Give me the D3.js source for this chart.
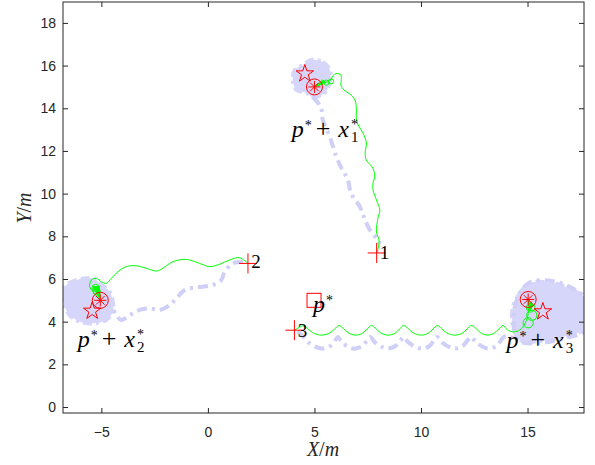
<!DOCTYPE html>
<html>
<head>
<meta charset="utf-8">
<script src="https://cdn.jsdelivr.net/npm/d3@7"></script>
<style>
  body { margin: 0; background: #fff; }
</style>
</head>
<body>
<svg id="chart" width="595" height="465"></svg>
<script>
// ---- data (metres) ----
var xTicks = [-5, 0, 5, 10, 15];
var yTicks = [0, 2, 4, 6, 8, 10, 12, 14, 16, 18];

var startPts = [[7.92, 7.22], [1.88, 6.73], [4.06, 3.6]];
var finalPts = [[5.0, 15.0], [-5.05, 5.0], [15.03, 5.04]];
var targetPts = [[4.55, 15.62], [-5.43, 4.5], [15.72, 4.47]];
var centrePt = [4.98, 5.0];

var green1 = [[7.92,7.22],[7.97,7.36],[8.03,7.83],[7.91,8.20],[7.99,8.90],[8.07,9.23],[7.91,9.70],[7.75,10.17],
  [7.75,10.50],[7.83,10.78],[7.74,11.20],[7.43,11.58],[7.38,11.91],[7.44,12.37],[7.28,12.84],[7.05,13.22],
  [6.96,13.55],[6.97,13.92],[6.90,14.39],[6.66,14.67],[6.38,14.86],[6.24,15.09],[6.26,15.33],[6.24,15.56],
  [6.05,15.63],[5.86,15.52],[5.77,15.33],[5.58,15.23],[5.34,15.14],[5.0,15.0]];
var green2 = [[1.88,6.73],[1.49,7.00],[1.02,6.89],[0.55,6.69],[0.08,6.58],[-0.39,6.73],[-0.85,6.89],[-1.17,6.92],
  [-1.64,6.81],[-1.95,6.62],[-2.26,6.42],[-2.42,6.37],[-2.89,6.50],[-3.36,6.62],[-3.83,6.58],[-4.22,6.34],
  [-4.53,6.03],[-4.77,5.80],[-5.00,5.87],[-5.23,6.03],[-5.47,5.95],[-5.55,5.64],[-5.39,5.40],[-5.05,5.0]];
var green3 = [[4.06,3.6],[4.30,3.74],[4.46,3.80],[4.68,3.68],[4.92,3.48],[5.30,3.37],[5.68,3.45],[5.95,3.66],
  [6.15,3.82],[6.36,3.68],[6.58,3.48],[6.91,3.37],[7.25,3.45],[7.48,3.66],[7.67,3.82],[7.88,3.68],[8.10,3.48],
  [8.43,3.37],[8.77,3.45],[9.00,3.66],[9.19,3.82],[9.40,3.68],[9.62,3.48],[9.98,3.37],[10.33,3.45],[10.57,3.66],
  [10.76,3.82],[10.97,3.68],[11.20,3.48],[11.56,3.37],[11.92,3.45],[12.17,3.66],[12.37,3.82],[12.58,3.68],
  [12.80,3.48],[13.11,3.37],[13.42,3.45],[13.66,3.66],[13.85,3.82],[14.05,3.62],[14.35,3.52],[14.65,3.62],
  [14.87,3.89],[15.0,4.2],[15.05,4.6],[15.03,5.04]];

var loops = [[5.56,15.2,0.12],[5.78,15.26,0.12],[-5.27,5.58,0.17],[-5.22,5.42,0.17],
  [15.03,3.95,0.24],[15.2,4.3,0.24],[15.15,4.65,0.2]];
var fans = [
  [[5.0,15.0],[5.4,15.33],[5.5,15.19]],
  [[-5.4,5.63],[-5.1,5.66],[-5.05,5.05]],
  [[15.03,5.0],[15.26,4.77],[15.12,4.53]]
];

var blue1 = [[4.92,14.53],[5.30,14.06],[5.39,13.45],[5.72,12.66],[6.00,11.81],[6.24,11.25],[6.57,10.64],
  [6.71,10.03],[7.14,9.37],[7.32,8.91],[7.60,8.30],[7.98,7.83],[8.07,7.64]];
var blue2 = [[1.65,6.81],[1.18,6.73],[0.79,6.34],[0.63,5.95],[0.24,5.72],[-0.23,5.64],[-0.70,5.59],[-1.09,5.48],
  [-1.48,5.09],[-1.79,4.78],[-2.26,4.55],[-2.73,4.62],[-3.20,4.55],[-3.67,4.31],[-4.06,4.08],[-4.30,4.31],[-4.46,4.63]];
var blue3 = [[4.22,3.56],[4.45,3.32],[4.75,3.0],[5.34,2.74],[5.75,2.86],[5.98,3.14],[6.10,3.28],[6.30,3.02],
  [6.80,2.74],[7.25,2.86],[7.48,3.14],[7.62,3.28],[7.85,3.02],[8.39,2.74],[8.80,2.86],[9.05,3.14],[9.19,3.28],
  [9.42,3.02],[9.99,2.74],[10.4,2.86],[10.62,3.14],[10.76,3.28],[11.0,3.02],[11.54,2.74],[11.95,2.86],
  [12.2,3.14],[12.36,3.28],[12.6,3.02],[13.14,2.74],[13.55,2.86],[13.76,3.14],[13.88,3.28],[14.31,3.3],
  [14.35,3.9],[14.4,4.7],[14.64,5.34],[15.11,5.85],[16.19,5.9],[17.13,5.55],[17.9,4.9],[17.9,3.7],
  [16.66,3.2],[15.58,3.0],[14.64,3.05],[14.4,3.3]];

var blob1 = [[4.86,16.27],[5.39,16.17],[5.72,15.80],[5.72,15.19],[5.48,14.72],[4.92,14.53],[4.62,14.72],
  [4.15,14.86],[3.98,15.33],[4.08,15.80],[4.45,16.03]];
var blob2 = [[-5.70,6.03],[-6.17,5.95],[-6.64,5.72],[-6.85,5.40],[-6.75,4.78],[-6.49,4.31],[-6.02,4.00],
  [-5.39,3.92],[-4.77,4.08],[-4.46,4.47],[-4.46,4.93],[-4.61,5.40],[-5.08,5.80],[-5.39,6.03]];
var blob3 = [[14.31,4.70],[14.64,5.34],[15.11,5.80],[16.19,5.81],[17.13,5.48],[17.93,4.87],[17.83,3.75],
  [16.66,3.28],[15.58,3.09],[14.64,3.14],[14.31,3.84]];

var numLabels = [{t: "1", x: 8.07, y: 6.92}, {t: "2", x: 2.04, y: 6.50}, {t: "3", x: 4.22, y: 3.29}];
var formLabels = [{i: "1", x: 3.93, y: 12.66}, {i: "2", x: -6.11, y: 2.82}, {i: "3", x: 14.01, y: 2.75}];
var centreLabel = {x: 4.93, y: 4.47};

// ---- layout ----
var svg = d3.select("#chart");
var L = 63, R = 584, T = 2, B = 413;
var x = d3.scaleLinear().domain([-6.8, 17.65]).range([L, R]);
var y = d3.scaleLinear().domain([-0.28, 18.98]).range([B, T]);
var axisCol = "#262626";
var serif = "'Liberation Serif', 'DejaVu Serif', serif";

svg.append("defs").append("clipPath").attr("id", "clip")
  .append("rect").attr("x", L).attr("y", T).attr("width", R - L).attr("height", B - T);

var plot = svg.append("g").attr("clip-path", "url(#clip)");

var pathLine = d3.line().x(d => x(d[0])).y(d => y(d[1])).curve(d3.curveCatmullRom.alpha(0.5));
var blobLine = d3.line().x(d => x(d[0])).y(d => y(d[1])).curve(d3.curveCatmullRomClosed.alpha(0.5));

// clouds
[blob1, blob2, blob3].forEach(function(b) {
  plot.append("path").attr("d", blobLine(b))
    .attr("fill", "#d6d6fa")
    .attr("stroke", "#d6d6fa")
    .attr("stroke-width", 4)
    .attr("stroke-dasharray", "9,4,3,4");
});

// reference paths, dash-dot
[blue1, blue2, blue3].forEach(function(b) {
  plot.append("path").attr("d", pathLine(b))
    .attr("fill", "none")
    .attr("stroke", "#cfcff7")
    .attr("stroke-width", 4)
    .attr("stroke-dasharray", "10,5,3,5");
});

// agent trajectories
[green1, green2, green3].forEach(function(g) {
  plot.append("path").attr("d", pathLine(g))
    .attr("fill", "none")
    .attr("stroke", "#00ff00")
    .attr("stroke-width", 1);
});
plot.selectAll(".loop").data(loops).enter().append("circle")
  .attr("cx", d => x(d[0])).attr("cy", d => y(d[1]))
  .attr("r", d => x(d[2]) - x(0))
  .attr("fill", "none").attr("stroke", "#00ff00").attr("stroke-width", 1);
fans.forEach(function(f) {
  plot.append("path").attr("d", d3.line().x(d => x(d[0])).y(d => y(d[1]))(f) + "Z")
    .attr("fill", "#00ff00").attr("stroke", "#00ff00").attr("stroke-width", 1);
});

// red markers
var red = "#ff0000";
startPts.forEach(function(p) {
  var cx = x(p[0]), cy = y(p[1]);
  plot.append("line").attr("x1", cx - 9).attr("x2", cx + 9).attr("y1", cy).attr("y2", cy).attr("stroke", red);
  plot.append("line").attr("x1", cx).attr("x2", cx).attr("y1", cy - 10).attr("y2", cy + 10).attr("stroke", red);
});
finalPts.forEach(function(p) {
  var cx = x(p[0]), cy = y(p[1]);
  plot.append("circle").attr("cx", cx).attr("cy", cy).attr("r", 8)
    .attr("fill", "none").attr("stroke", red).attr("stroke-width", 1);
  [0, 45, 90, 135].forEach(function(a) {
    var r = a * Math.PI / 180, dx = 6 * Math.cos(r), dy = 6 * Math.sin(r);
    plot.append("line").attr("x1", cx - dx).attr("x2", cx + dx).attr("y1", cy - dy).attr("y2", cy + dy)
      .attr("stroke", red).attr("stroke-width", 1);
  });
});
plot.selectAll(".star").data(targetPts).enter().append("path")
  .attr("transform", d => "translate(" + x(d[0]) + "," + y(d[1]) + ")")
  .attr("d", d3.symbol(d3.symbolStar, 95))
  .attr("fill", "none").attr("stroke", red).attr("stroke-width", 1);
plot.append("rect")
  .attr("x", x(centrePt[0]) - 7).attr("y", y(centrePt[1]) - 7)
  .attr("width", 14).attr("height", 14)
  .attr("fill", "none").attr("stroke", red).attr("stroke-width", 1);

// labels
var labels = svg.append("g").attr("fill", "#000").style("font-family", serif);
numLabels.forEach(function(d) {
  labels.append("text").attr("x", x(d.x)).attr("y", y(d.y))
    .style("font-size", "19px").text(d.t);
});
function piece(t, s, dx, dy, size, italic) {
  t.append("tspan").attr("dx", dx).attr("dy", dy)
    .style("font-size", size + "px").style("font-style", italic ? "italic" : "normal").text(s);
}
formLabels.forEach(function(d) {
  var t = labels.append("text").attr("x", x(d.x)).attr("y", y(d.y));
  piece(t, "p", 0, 0, 24, true);
  piece(t, "*", 1, -7, 14, false);
  piece(t, "+", 4, 7, 26, false);
  piece(t, "x", 8, 0, 24, true);
  piece(t, "*", 2, -8, 14, false);
  piece(t, d.i, -7, 13, 15, false);
});
var tc = labels.append("text").attr("x", x(centreLabel.x)).attr("y", y(centreLabel.y));
piece(tc, "p", 0, 0, 24, true);
piece(tc, "*", 1, -7, 14, false);

// axes
var ax = svg.append("g").style("font-family", "'Liberation Sans', Arial, sans-serif");
var xAxis = ax.append("g").attr("transform", "translate(0," + B + ")")
  .call(d3.axisBottom(x).tickValues(xTicks).tickSize(-5).tickPadding(14));
var yAxis = ax.append("g").attr("transform", "translate(" + L + ",0)")
  .call(d3.axisLeft(y).tickValues(yTicks).tickSize(-5).tickPadding(7));
var xTop = ax.append("g").attr("transform", "translate(0," + T + ")")
  .call(d3.axisTop(x).tickValues(xTicks).tickSize(-5).tickFormat(""));
var yRight = ax.append("g").attr("transform", "translate(" + R + ",0)")
  .call(d3.axisRight(y).tickValues(yTicks).tickSize(-5).tickFormat(""));
[xAxis, yAxis, xTop, yRight].forEach(function(a) {
  a.select(".domain").remove();
  a.selectAll("line").attr("stroke", axisCol);
  a.selectAll("text").attr("fill", axisCol).style("font-size", "14px");
});
ax.append("rect").attr("x", L).attr("y", T).attr("width", R - L).attr("height", B - T)
  .attr("fill", "none").attr("stroke", axisCol).attr("stroke-width", 1);

// axis titles
var xt = svg.append("text").attr("x", 323).attr("y", 456).attr("text-anchor", "middle")
  .style("font-family", serif).style("font-size", "20px").attr("fill", axisCol);
xt.append("tspan").style("font-style", "italic").text("X");
xt.append("tspan").text("/");
xt.append("tspan").style("font-style", "italic").text("m");

var yt = svg.append("text").attr("transform", "translate(31,208) rotate(-90)").attr("text-anchor", "middle")
  .style("font-family", serif).style("font-size", "20px").attr("fill", axisCol);
yt.append("tspan").style("font-style", "italic").text("Y");
yt.append("tspan").text("/");
yt.append("tspan").style("font-style", "italic").text("m");
</script>
</body>
</html>
